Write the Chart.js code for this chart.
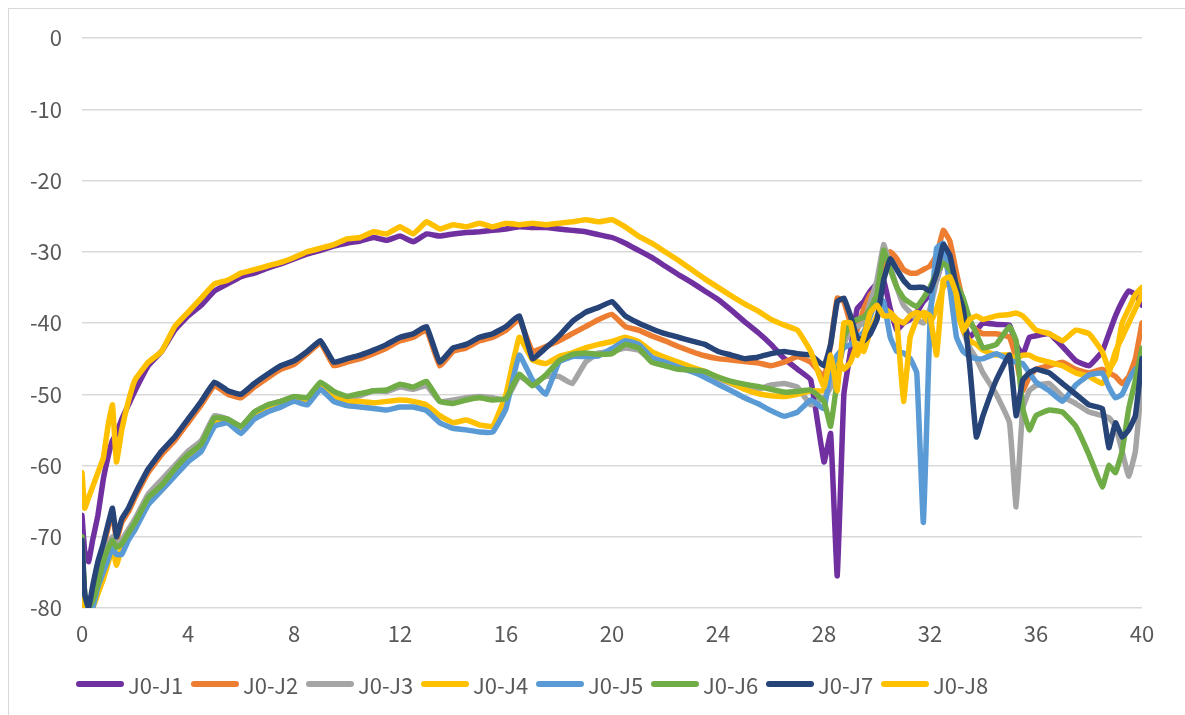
<!DOCTYPE html>
<html>
<head>
<meta charset="utf-8">
<script src="https://cdn.jsdelivr.net/npm/chart.js@4.4.1/dist/chart.umd.min.js"></script>
<style>
    html, body { margin: 0; padding: 0; background: #fff; overflow: hidden; }
    #wrap { position: relative; width: 1185px; height: 715px; }
    #frame {
        position: absolute; left: 8px; top: 8px; width: 1200px; height: 730px;
        border-left: 1px solid #d9d9d9; border-top: 1px solid #d9d9d9; pointer-events: none;
    }
    #legend {
        position: absolute; left: 76px; top: 670px; height: 28px;
        display: flex; align-items: center;
        font-family: "Noto Sans CJK SC", "Noto Sans", sans-serif; font-size: 22px; color: #595959;
    }
    .item { display: flex; align-items: center; width: 115px; }
    .swatch { width: 48px; height: 6px; border-radius: 3px; margin-right: 4px; }
</style>
</head>
<body>
<div id="wrap">
    <canvas id="chart" width="1185" height="715"></canvas>
    <div id="frame"></div>
    <div id="legend"></div>
</div>
<script>
// --------------------
// Data
// --------------------
const xValues = [
    0, 0.1, 0.25, 0.4, 0.6, 0.8, 1, 1.15, 1.3, 1.5, 1.75, 2,
    2.5, 3, 3.5, 4, 4.5, 5, 5.5, 6, 6.5, 7, 7.5, 8,
    8.5, 9, 9.5, 10, 10.5, 11, 11.5, 12, 12.5, 13, 13.5, 14,
    14.5, 15, 15.5, 16, 16.5, 17, 17.5, 18, 18.5, 19, 19.5, 20,
    20.5, 21, 21.5, 22, 22.5, 23, 23.5, 24, 24.5, 25, 25.5, 26,
    26.5, 27, 27.5, 28,
    28.25, 28.5, 28.75, 29, 29.25, 29.5, 29.75, 30, 30.25, 30.5, 30.75, 31,
    31.25, 31.5, 31.75, 32, 32.25, 32.5, 32.75, 33, 33.25, 33.5, 33.75, 34,
    34.5, 35, 35.25, 35.5, 35.75, 36, 36.5, 37, 37.5, 38, 38.5, 38.75, 39, 39.25, 39.5, 39.75, 40
];

const seriesNames = ["J0-J1", "J0-J2", "J0-J3", "J0-J4", "J0-J5", "J0-J6", "J0-J7", "J0-J8"];
const seriesColors = ["#7030A0", "#ED7D31", "#A5A5A5", "#FFC000", "#5B9BD5", "#70AD47", "#264478", "#FFC000"];

const j1 = [
    -67, -72, -73.5, -70.5, -67, -62, -58.5, -56.5, -55.5, -53.5, -51.5, -49.5,
    -46, -44, -41, -39, -37.5, -35.5, -34.5, -33.5, -33, -32.3, -31.7, -31,
    -30.3, -29.8, -29.2, -28.8, -28.5, -28, -28.4, -27.8, -28.6, -27.5, -27.8, -27.5,
    -27.3, -27.2, -27, -26.8, -26.5, -26.6, -26.6, -26.8, -27, -27.2, -27.6, -28,
    -28.8, -29.8, -30.8, -32, -33.2, -34.3, -35.5, -36.7, -38.2, -39.8, -41.3, -43,
    -45, -46.5, -48, -59.5,
    -55.5, -75.5, -50, -44, -38, -37, -35.5, -34.5, -34, -38, -41, -40,
    -39.5, -38.5, -37, -36, -34, -31, -32, -36, -40, -42, -41, -40,
    -40.2, -40.3, -43, -44.5, -42, -41.8, -41.5, -43.3, -45.3, -46, -44, -41.5, -39, -37, -35.5, -36, -37.5
];
const j2 = [
    -74, -79, -80, -78, -74, -71.5, -68.5, -66.5, -70.5, -68, -66.5, -64.5,
    -61, -58.5, -56.5, -54, -51.5, -48.8, -50, -50.5, -49, -47.7, -46.5, -45.8,
    -44.3, -42.8, -46, -45.5, -45, -44.3, -43.5, -42.5, -42, -41, -46, -44,
    -43.5, -42.5, -42, -41, -39.5, -44, -43.3, -42.5, -41.5, -40.5, -39.5, -38.8,
    -40.5, -41, -41.8, -42.5, -43.3, -44, -44.6, -45, -45.2, -45.4, -45.6, -46,
    -45.5, -44.7, -45.5, -47.5,
    -43, -36.5, -37, -40, -41, -38, -36, -35, -32, -30, -31, -32.5,
    -33, -33, -32.5, -32, -30.5, -27, -28.5, -33, -37, -40, -41, -41.5,
    -41.5, -42, -45, -49.5, -47.5, -46.5, -46, -45.5, -46.5, -47, -46.5, -47, -47.5, -48.5, -47.5, -45, -40
];
const j3 = [
    -72, -78, -80, -79, -76, -73, -71, -70, -71, -70.5, -69, -67.5,
    -64, -62, -60, -58, -56.5, -53, -53.5, -54.5, -52.5, -51.5, -51, -50.5,
    -50.6, -48.5, -49.8, -50.5, -50.2, -49.5, -49.6, -49, -49.3, -48.8, -51, -50.8,
    -50.5, -50.3, -50.5, -50.8, -47.5, -48.5, -47.5, -47.5, -48.5, -45.5, -44.2, -44,
    -43.5, -43.8, -45.2, -45.8, -46.3, -46.8, -47.2, -47.8, -48.5, -49.2, -49.3, -48.7,
    -48.5, -49, -51.5, -50.5,
    -49, -47, -43, -41, -40.5, -40, -37, -34, -29, -32, -35, -37.5,
    -38.5, -39.5, -40, -38, -34, -31, -30.5, -36, -41, -43.5, -45, -47,
    -50, -54, -65.8, -52, -49.5, -48.8, -48.5, -50.3, -51.3, -52.5, -53, -53.3, -54.5, -58, -61.5, -58, -48
];
const j4 = [
    -73, -80, -80, -80, -78, -76, -73.5, -71.5, -74, -71.5, -70, -69,
    -65, -63.5, -61, -59, -57.5, -54, -54, -55.3, -53, -52.2, -51.5, -50.8,
    -51, -49, -50.5, -51, -51, -51.2, -51, -50.8, -51, -51.5, -53, -54,
    -53.6, -54.3, -54.5, -50, -42, -45.2, -45.7, -44.7, -44.2, -43.5, -43, -42.6,
    -42, -42.6, -44, -44.8, -45.5, -46.2, -46.8, -47.6, -48.4, -49.3, -49.9, -50.2,
    -50.3, -50, -49.5, -49.5,
    -47, -45, -46.5, -45.5, -43, -44, -41, -39, -38, -38.5, -39.5, -40,
    -39, -38.5, -39, -40, -38, -35, -34, -38, -41, -42.5, -43, -43.8,
    -44.5, -44.5, -45, -44.5, -44.5, -45, -45.5, -46, -47, -47.5, -48.5, -47, -44, -42, -40, -38, -36
];
const j5 = [
    -72, -78, -80, -80, -77, -75, -73, -71.5, -72.5, -72.5, -70.5, -69,
    -65.5, -63.5, -61.5, -59.5, -58, -54.5, -54, -55.5, -53.5, -52.5, -51.8, -51,
    -51.5, -49.3, -51, -51.6, -51.8, -52, -52.2, -51.8, -51.8, -52.3, -54, -54.8,
    -55, -55.3, -55.3, -52, -44.5, -48, -50, -45.5, -44.7, -44.7, -44.6, -43.6,
    -42.5, -43, -44.8, -45.5, -46.2, -46.8, -47.6, -48.6, -49.5, -50.5, -51.3, -52.3,
    -53.1, -52.5, -50.8, -52,
    -46.5, -44.5, -43.5, -43, -42, -41.3, -39, -36.5, -37, -42, -44, -44.2,
    -45, -47, -68, -40, -29.5, -28.8, -35, -42, -44, -44.7, -45, -45,
    -44.3, -45.2, -45.5, -45.7, -47, -48.3, -49.5, -51, -48.7, -47.3, -47, -49, -50.5, -50, -48, -46.5, -46
];
const j6 = [
    -70, -78, -80, -79, -76.5, -73.5, -71.5, -70.5, -71.5, -71, -69.5, -68,
    -64.5, -62.8, -60.5, -58.5, -57, -53.3, -53.5, -54.5, -52.5, -51.5, -51, -50.3,
    -50.5, -48.3, -49.6, -50.3, -49.9, -49.5, -49.4, -48.6, -49, -48.2, -51, -51.3,
    -50.8, -50.5, -50.8, -50.6, -47.2, -48.8, -47.3, -45.3, -44.4, -44.2, -44.4, -44.3,
    -43, -43.5, -45.5, -46, -46.5, -46.6, -46.8, -47.6, -48.2, -48.6, -48.9, -49.3,
    -49.7, -49.6, -49.4, -51,
    -54.5, -48, -42, -40, -39.5, -39.2, -38, -36, -29.8, -32.5, -35, -36.5,
    -37.2, -37.7, -36.5, -35, -33, -31.6, -32.5, -34.5, -36.5, -39.5, -41.5, -43.5,
    -43, -40.5, -42.5, -52, -55, -53, -52.2, -52.5, -54.5, -58.5, -63, -60, -61, -58, -52, -48, -43.5
];
const j7 = [
    -70.5, -78, -80, -77, -73.5, -71, -68, -66, -70, -67.5, -66, -64,
    -60.5, -58, -56, -53.5, -51, -48.3, -49.5, -50, -48.5, -47.2, -46, -45.3,
    -44, -42.5, -45.5, -45, -44.5, -43.8, -43, -42, -41.5, -40.5, -45.5, -43.5,
    -43, -42, -41.5, -40.5, -39, -45, -43.5, -41.8, -39.8, -38.5, -37.8, -37,
    -39, -40, -40.8, -41.5, -42, -42.5, -43, -44, -44.5, -45, -44.8, -44.3,
    -44, -44.3, -44.5, -46,
    -43, -37, -36.5, -39, -42, -42.5, -41.5, -39.5, -34, -31, -32.5, -34,
    -35, -35, -35, -35.5, -33, -29, -30.5, -35, -38, -46, -56, -53,
    -48, -44.5, -53, -48, -47, -46.5, -47, -48.5, -50, -51.5, -52, -57.5, -54, -56, -55, -53, -45
];
const j8 = [
    -61, -66, -64.5, -63, -61, -59, -54, -51.5, -59.5, -55, -51, -48,
    -45.5, -44, -40.5, -38.5, -36.5, -34.5, -34, -33, -32.5, -32, -31.5, -30.8,
    -30, -29.5, -29, -28.2, -28, -27.2, -27.5, -26.5, -27.5, -25.8, -26.8, -26.2,
    -26.5, -26, -26.5, -26, -26.2, -26, -26.2, -26, -25.8, -25.5, -25.8, -25.5,
    -26.5, -27.8, -28.8, -30, -31.2, -32.5, -33.8, -35, -36.2, -37.3, -38.3, -39.5,
    -40.3, -41, -44, -49,
    -44.5, -49.5, -40, -40, -44.5, -42, -38.5, -37.5, -39, -39, -40, -51,
    -42, -39.5, -38.5, -39, -44.5, -34, -33.5, -36, -41, -39.5, -39, -39.5,
    -39, -38.8, -38.6, -39, -40, -41, -41.5, -42.5, -41, -41.5, -44, -46.5, -45, -40, -38, -36, -35
];

const seriesValues = [j1, j2, j3, j4, j5, j6, j7, j8];

const FONT_FAMILY = '"Noto Sans CJK SC", "Noto Sans", sans-serif';
const TEXT_COLOR = "#595959";

// --------------------
// Build datasets (later series drawn on top, like the original)
// --------------------
const datasets = seriesNames.map((name, i) => ({
    label: name,
    data: xValues.map((x, k) => ({ x: x, y: seriesValues[i][k] })),
    borderColor: seriesColors[i],
    backgroundColor: seriesColors[i],
    borderWidth: 5.5,
    borderCapStyle: "round",
    borderJoinStyle: "round",
    pointRadius: 0,
    tension: 0.1,
    fill: false,
    order: seriesNames.length - i
}));

const ctx = document.getElementById("chart").getContext("2d");

new Chart(ctx, {
    type: "line",
    data: { datasets },
    options: {
        responsive: false,
        animation: false,
        layout: { padding: { top: 38, right: 43, left: 0, bottom: 0 } },
        plugins: {
            legend: { display: false },
            tooltip: { enabled: false }
        },
        scales: {
            x: {
                type: "linear",
                min: 0,
                max: 40,
                ticks: {
                    stepSize: 4,
                    padding: 12,
                    color: TEXT_COLOR,
                    font: { family: FONT_FAMILY, size: 22 }
                },
                grid: { display: false, drawTicks: false },
                border: { display: false },
                afterFit: scale => { scale.height = 107; }
            },
            y: {
                min: -80,
                max: 0,
                ticks: {
                    stepSize: 10,
                    padding: 20,
                    color: TEXT_COLOR,
                    font: { family: FONT_FAMILY, size: 22 }
                },
                grid: { color: "#d9d9d9", lineWidth: 1.5, drawTicks: false },
                border: { display: false },
                afterFit: scale => { scale.width = 82; }
            }
        }
    }
});

// --------------------
// Legend (HTML, same order as the series)
// --------------------
const legendEl = document.getElementById("legend");
seriesNames.forEach((name, i) => {
    const item = document.createElement("div");
    item.className = "item";
    const sw = document.createElement("span");
    sw.className = "swatch";
    sw.style.background = seriesColors[i];
    const label = document.createElement("span");
    label.textContent = name;
    item.appendChild(sw);
    item.appendChild(label);
    legendEl.appendChild(item);
});
</script>
</body>
</html>
